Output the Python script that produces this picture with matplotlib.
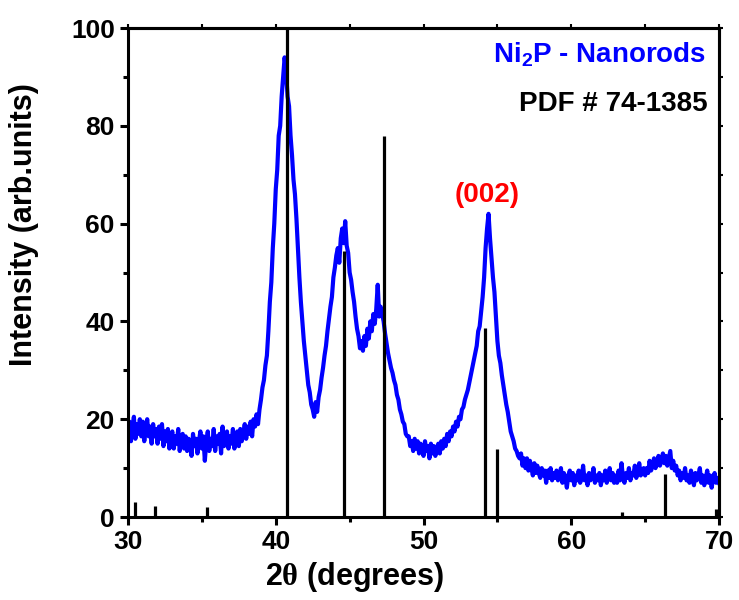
import numpy as np
import matplotlib
matplotlib.use("Agg")
import matplotlib.pyplot as plt

plt.rcParams['font.family'] = ['Liberation Sans', 'DejaVu Sans']
plt.rcParams['font.weight'] = 'bold'
plt.rcParams['mathtext.fontset'] = 'custom'
plt.rcParams['mathtext.rm'] = 'Liberation Serif'
plt.rcParams['mathtext.bf'] = 'Liberation Sans:bold'

# ---- data ----
two_theta_start, two_theta_end = 30.0, 70.0
intensity = [
    16.0, 19.5, 15.5, 18.5, 20.5, 16.0, 19.0, 17.0, 20.0, 16.5,
    19.5, 15.5, 18.0, 20.0, 16.5, 18.5, 15.0, 19.0, 16.5, 18.0,
    15.0, 18.5, 16.0, 19.0, 14.5, 17.5, 15.5, 18.0, 14.0, 16.5,
    17.5, 14.0, 16.5, 15.0, 18.0, 13.5, 16.0, 17.0, 14.0, 16.5,
    13.5, 16.0, 15.0, 12.5, 17.0, 14.5, 16.0, 13.0, 15.5, 17.5,
    14.0, 16.5, 11.5, 15.5, 17.5, 13.5, 16.0, 14.5, 18.0, 13.5,
    16.5, 15.0, 17.0, 13.0, 18.5, 14.5, 16.0, 17.5, 14.0, 16.5,
    15.0, 18.0, 14.0, 16.5, 17.5, 14.5, 18.0, 15.5, 17.0, 19.0,
    16.0, 18.5, 17.0, 19.5, 16.5, 20.0, 18.5, 21.0, 19.0, 22.0,
    24.0, 26.5, 28.0, 31.0, 33.0, 38.0, 44.0, 48.0, 55.0, 60.0,
    67.0, 71.0, 78.0, 80.0, 86.0, 90.0, 94.0, 91.0, 86.0, 84.0,
    78.0, 74.0, 69.0, 66.0, 61.0, 55.0, 49.0, 44.0, 40.0, 36.0,
    33.0, 30.0, 27.0, 25.5, 23.0, 22.0, 20.5, 23.5, 21.5, 24.5,
    26.0, 28.5, 30.5, 33.0, 35.0, 38.0, 40.5, 43.0, 45.0, 49.0,
    51.0, 53.5, 55.0, 52.0, 57.0, 59.0, 56.0, 60.5, 55.5, 54.0,
    50.0, 48.5, 46.0, 44.0, 41.0, 38.5, 37.0, 34.5, 36.0, 34.0,
    37.0, 35.0, 38.5, 36.5, 40.0, 38.0, 41.5, 39.5, 42.5, 47.5,
    41.0, 43.0, 41.5, 40.0, 37.5, 35.5, 33.5, 32.0, 30.5, 29.5,
    28.0, 27.0, 25.0, 24.0, 22.0, 21.0, 19.5, 19.0, 17.0, 16.5,
    16.5, 14.5, 15.5, 13.5, 16.0, 14.0, 15.5, 13.0, 15.0, 14.0,
    12.5, 15.5, 13.5, 14.5, 12.0, 15.0, 13.0, 14.5, 12.5, 14.0,
    15.0, 13.0, 15.5, 14.0, 16.0, 14.5, 17.0, 15.5, 17.5, 16.5,
    18.5, 17.5, 19.5, 18.5, 20.5, 20.0, 22.0, 22.5, 24.0, 25.0,
    26.0, 27.5, 29.0, 30.5, 32.0, 33.5, 35.0, 38.0, 39.0, 42.0,
    45.0, 49.0, 55.0, 59.0, 62.0, 57.0, 53.0, 49.0, 46.0, 41.0,
    36.0, 33.0, 31.5, 29.0, 27.0, 25.0, 23.0, 21.5, 19.5, 17.5,
    16.5, 15.5, 14.0, 13.5, 12.5, 12.0, 13.0, 10.5, 12.0, 10.0,
    12.0, 9.5, 11.5, 10.0, 8.5, 11.0, 9.0, 10.5, 9.0, 8.0,
    10.0, 8.5, 9.5, 7.0, 9.5, 8.0, 10.0, 7.5, 9.0, 8.0,
    9.5, 7.5, 8.5, 10.0, 7.0, 9.0, 8.0, 6.0, 8.5, 9.5,
    7.5, 9.0, 6.5, 8.5, 7.5, 9.5, 7.0, 8.0, 10.5, 7.5,
    8.5, 6.5, 9.0, 7.5, 8.0, 10.0, 7.0, 8.5, 7.5, 9.0,
    6.5, 8.5, 7.5, 9.5, 7.0, 8.0, 10.0, 7.5, 9.0, 7.0,
    8.5, 7.0, 9.5, 7.5, 11.0, 8.0, 7.0, 9.0, 8.0, 10.0,
    7.5, 9.0, 8.5, 10.5, 8.0, 9.5, 11.0, 8.5, 9.5, 10.0,
    8.5, 10.0, 9.0, 11.5, 9.5, 10.5, 12.0, 10.0, 11.0, 12.5,
    10.5, 11.5, 13.0, 11.0, 12.5, 10.5, 12.0, 13.5, 10.0, 11.5,
    9.5, 10.5, 8.5, 9.5, 7.5, 9.0, 8.0, 10.0, 7.5, 8.5,
    7.0, 9.5, 8.0, 6.5, 9.0, 7.5, 8.5, 10.0, 7.0, 8.5,
    6.5, 8.0, 9.5, 7.0, 8.5, 6.0, 8.0, 9.0, 7.0, 8.0,
    7.0,
]
two_theta = np.linspace(two_theta_start, two_theta_end, len(intensity))

# PDF # 74-1385 reference lines
pdf_positions = [30.47, 31.8, 35.35, 40.76, 44.6, 47.35, 54.16, 54.97, 63.4, 66.34, 69.8]
pdf_heights = [3.1, 2.3, 2.1, 100, 54.3, 78, 38.6, 13.9, 1.0, 8.8, 1.6]

x_ticks = [30, 40, 50, 60, 70]
x_minor = [35, 45, 55, 65]
y_ticks = [0, 20, 40, 60, 80, 100]
y_minor = [10, 30, 50, 70, 90]

# ---- plot ----
fig = plt.figure(figsize=(7.39, 6.0), dpi=100)
ax = fig.add_axes([0.1732, 0.1383, 0.7998, 0.815])

ax.plot(two_theta, intensity, color='#0000ff', lw=3.0, zorder=2)
ax.vlines(pdf_positions, 0, pdf_heights, color='black', lw=2.3, zorder=3)

ax.set_xlim(30, 70)
ax.set_ylim(0, 100)
ax.set_xticks(x_ticks)
ax.set_yticks(y_ticks)
ax.set_xticks(x_minor, minor=True)
ax.set_yticks(y_minor, minor=True)

for s in ax.spines.values():
    s.set_linewidth(2.2)
ax.tick_params(which='major', direction='out', length=6, width=2.2, labelsize=19, pad=3.5)
ax.tick_params(which='minor', direction='out', length=3.5, width=2.2)

for lab in ax.get_xticklabels() + ax.get_yticklabels():
    lab.set_fontweight('bold')

secx = ax.secondary_xaxis('top')
secx.set_xticks(x_ticks + x_minor)
secx.tick_params(direction='out', length=3, width=1.5)
secx.set_xticklabels([])
secy = ax.secondary_yaxis('right')
secy.set_yticks(y_ticks + y_minor)
secy.tick_params(direction='out', length=3, width=1.5)
secy.set_yticklabels([])
secx.spines['top'].set_linewidth(2.2)
secy.spines['right'].set_linewidth(2.2)

ax.set_xlabel(r'2$\mathrm{\theta}$ (degrees)', fontsize=22, fontweight='bold')
ax.set_ylabel('Intensity (arb.units)', fontsize=22, fontweight='bold')
ax.xaxis.set_label_coords(0.384, -0.088)
ax.yaxis.set_label_coords(-0.151, 0.599)

ax.text(69.1, 94.5, r'Ni$_\mathbf{2}$P - Nanorods', color='#0000ff', fontsize=20,
        fontweight='bold', ha='right', va='center')
ax.text(69.25, 84.5, 'PDF # 74-1385', color='black', fontsize=20,
        fontweight='bold', ha='right', va='center')
ax.text(54.3, 65.8, '(002)', color='#ff0000', fontsize=20,
        fontweight='bold', ha='center', va='center')

fig.savefig('out.png', dpi=100)
